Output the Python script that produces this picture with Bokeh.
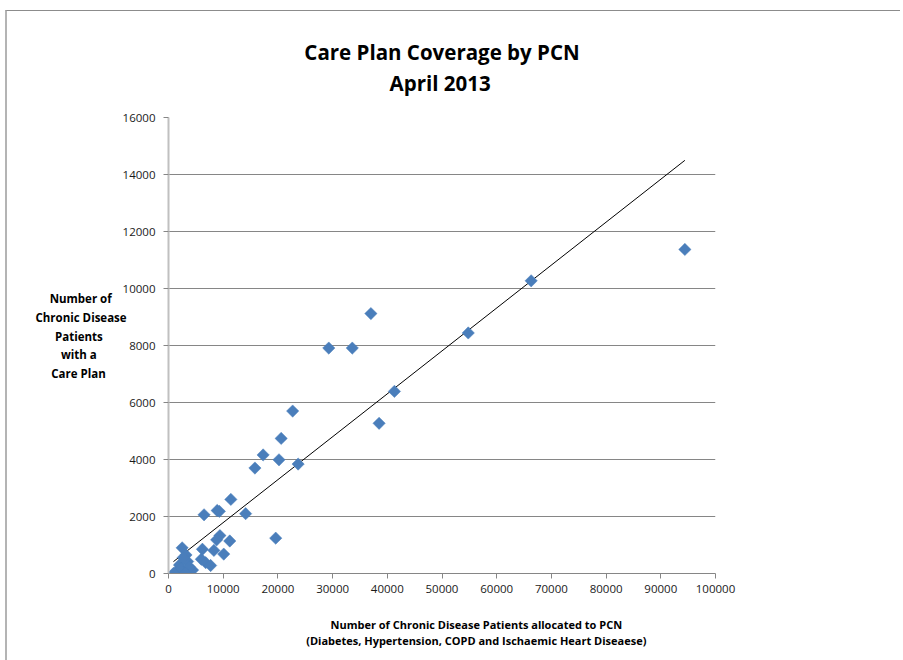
import numpy as np
from bokeh.plotting import figure
from bokeh.models import Title, FixedTicker, Range1d, BasicTickFormatter, ColumnDataSource
from bokeh.embed import file_html
from bokeh.resources import INLINE

# ---- data ----
patients_allocated = [94400, 66300, 54800, 37000, 29300, 33600, 41300, 38500, 22700, 20600,
                      17300, 15800, 20200, 23700, 11400, 8900, 9300, 6500, 14100, 19600,
                      9400, 8800, 11200, 8300, 10100, 6200, 6000, 6800, 7700, 2500,
                      3200, 3500, 2000, 1300, 2900, 2300, 4400, 3800, 900, 3100, 2700]
patients_careplan = [11370, 10270, 8440, 9120, 7910, 7910, 6390, 5270, 5700, 4740,
                     4160, 3700, 3990, 3840, 2600, 2210, 2180, 2060, 2100, 1240,
                     1330, 1180, 1140, 810, 680, 850, 500, 380, 280, 900,
                     650, 420, 300, 50, 20, 170, 120, 230, 0, 0, 560]
x_ticks = [0, 10000, 20000, 30000, 40000, 50000, 60000, 70000, 80000, 90000, 100000]
y_ticks = [0, 2000, 4000, 6000, 8000, 10000, 12000, 14000, 16000]
title_lines = ["Care Plan Coverage by PCN", "April 2013"]
y_label_lines = ["Number of", "Chronic Disease", "Patients", "with a", "Care Plan"]
x_label_lines = ["Number of Chronic Disease Patients allocated to PCN",
                 "(Diabetes, Hypertension, COPD and Ischaemic Heart Diseaese)"]

W, H = 895, 650
FONT = "Open Sans"
NB = "\u00a0"

p = figure(width=W, height=H, output_backend="svg", toolbar_location=None,
           x_range=Range1d(0, 100000), y_range=Range1d(0, 16000),
           frame_width=547, frame_height=456,
           min_border_left=161, min_border_right=185, min_border_top=106, min_border_bottom=87)
p.styles = {"border-left": "2px solid #b4b4b4", "border-top": "1px solid #8c8c8c",
            "box-sizing": "border-box", "margin-left": "5px", "margin-top": "10px"}
p.outline_line_color = None
p.background_fill_color = "white"
p.border_fill_color = "white"

# two-line chart title (second line centred with leading no-break spaces)
t = Title(text=title_lines[0] + "\n" + NB * 16 + title_lines[1], align="center",
          text_font=FONT, text_font_size="20.5px", text_font_style="bold",
          text_color="black", text_line_height=1.11, standoff=40)
p.add_layout(t, "above")

p.xaxis.ticker = FixedTicker(ticks=x_ticks)
p.yaxis.ticker = FixedTicker(ticks=y_ticks)
for ax in (p.xaxis, p.yaxis):
    ax.formatter = BasicTickFormatter(use_scientific=False)
    ax.minor_tick_line_color = None
    ax.major_label_text_font = FONT
    ax.major_label_text_font_size = "11.5px"
    ax.major_label_text_color = "#1a1a1a"
    ax.major_tick_in = 0
    ax.major_tick_out = 5
p.xaxis.axis_line_color = "#868686"
p.xaxis.major_tick_line_color = "#868686"
p.yaxis.axis_line_color = "#c0c0c0"
p.yaxis.axis_line_width = 2
p.yaxis.major_tick_line_color = "#868686"
p.xaxis.major_label_standoff = 6
p.yaxis.major_label_standoff = 8

# y axis label: horizontal, multi-line, lines centred via trailing no-break spaces
y_pad = [5, 0, 8, 10, 7]
p.yaxis.axis_label = "\n".join([s + NB * k for s, k in zip(y_label_lines, y_pad)] + [NB])
p.yaxis.axis_label_orientation = "horizontal"
p.yaxis.axis_label_text_font = FONT
p.yaxis.axis_label_text_font_size = "11.5px"
p.yaxis.axis_label_text_font_style = "bold"
p.yaxis.axis_label_text_color = "black"
p.yaxis.axis_label_text_align = "center"
p.yaxis.axis_label_text_line_height = 1.25
p.yaxis.axis_label_standoff = -7

# x axis label: two centred lines, shifted right by leading no-break spaces
p.xaxis.axis_label = "\n".join(NB * 24 + s for s in x_label_lines)
p.xaxis.axis_label_text_font = FONT
p.xaxis.axis_label_text_font_size = "11px"
p.xaxis.axis_label_text_font_style = "bold"
p.xaxis.axis_label_text_color = "black"
p.xaxis.axis_label_text_line_height = 1.1
p.xaxis.axis_label_standoff = 21

p.xgrid.grid_line_color = None
p.ygrid.grid_line_color = "#868686"
p.ygrid.grid_line_width = 1

# trendline (least squares)
xs = np.array(patients_allocated, dtype=float)
ys = np.array(patients_careplan, dtype=float)
m, c = np.polyfit(xs, ys, 1)
tx = np.array([xs.min(), xs.max()])
p.line(tx, m * tx + c, line_color="black", line_width=1)

src = ColumnDataSource(dict(x=patients_allocated, y=patients_careplan))
p.scatter("x", "y", source=src, marker="square", size=8.7, angle=np.pi / 4,
          fill_color="#4A7EBB", line_color="#4A7EBB", line_width=0.5)

open("out.html", "w").write(file_html(p, INLINE))
